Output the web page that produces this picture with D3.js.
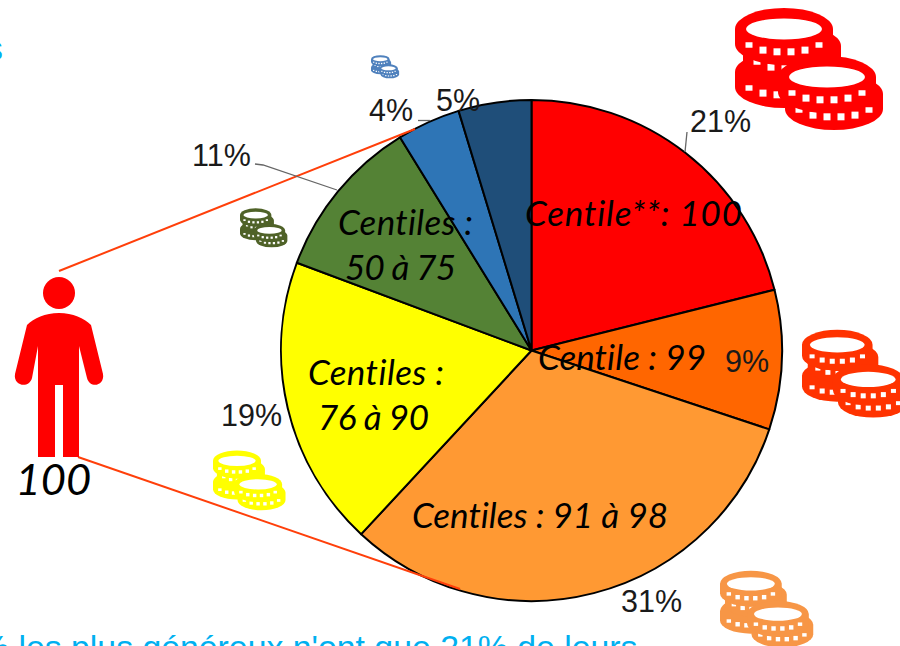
<!DOCTYPE html>
<html><head><meta charset="utf-8">
<script src="https://cdn.jsdelivr.net/npm/d3@7"></script>
<style>html,body{margin:0;padding:0;background:#fff;overflow:hidden}svg{display:block}text{font-variant-ligatures:none}</style>
</head><body><svg id="c" width="900" height="646"></svg>
<script>
const categories = ["Centile 100","Centile 99","Centiles 91 à 98","Centiles 76 à 90","Centiles 50 à 75","Centiles 25 à 49","Centiles 0 à 24"];
const values = [21.1, 9, 31.8, 18.8, 10.5, 4.1, 4.7];
const percentLabels = ["21%","9%","31%","19%","11%","4%","5%"];
const sliceColors = ["#ff0000","#ff6600","#ff9933","#ffff00","#548235","#2e75b6","#1f4e79"];

const svg = d3.select("#c");
const cx = 531.5, cy = 350.5, R = 250.5;
const pie = d3.pie().sort(null).value(d => d);
const arc = d3.arc().innerRadius(0).outerRadius(R);

svg.append("g").attr("transform",`translate(${cx},${cy})`)
  .selectAll("path").data(pie(values)).join("path")
  .attr("d",arc).attr("fill",(d,i)=>sliceColors[i])
  .attr("stroke","#000").attr("stroke-width",2).attr("stroke-linejoin","round");

// guide lines over the pie
const orange = "#ff3f0a";
svg.append("line").attr("x1",78).attr("y1",457).attr("x2",460).attr("y2",589).attr("stroke",orange).attr("stroke-width",2);
svg.append("line").attr("x1",59).attr("y1",271).attr("x2",415).attr("y2",129).attr("stroke",orange).attr("stroke-width",2);

// leader lines
const leader = [[[255,164],[263,165],[337,190]],[[418,120.5],[430,120.5]],[[687,132],[685,152]]];
svg.selectAll("path.lead").data(leader).join("path").attr("class","lead")
  .attr("d",d3.line()).attr("fill","none").attr("stroke","#666").attr("stroke-width",1.3);

// percent labels
const pctPos = [[690,132],[725,372],[621,612],[221,426],[192,166],[369,121],[436,111]];
svg.selectAll("text.pct").data(percentLabels).join("text").attr("class","pct")
  .attr("x",(d,i)=>pctPos[i][0]).attr("y",(d,i)=>pctPos[i][1])
  .attr("font-family","Liberation Sans").attr("font-size",30.5).attr("fill","#1a1a1a").text(d=>d);

// category labels: text, x, baseline, drawn width
const catLabels = [
 ["Centile**: 100",525,226,217],["Centile : 99",538,370,168],["Centiles : 91 à 98",412,528,256],
 ["Centiles :",308,385,136],["76 à 90",318,430,111],["Centiles :",338,235,135],["50 à 75",345,280,111]];
svg.selectAll("text.cat").data(catLabels).join("text").attr("class","cat")
  .attr("x",d=>d[1]).attr("y",d=>d[2]).attr("textLength",d=>d[3]).attr("lengthAdjust","spacing")
  .attr("font-family","Lato").attr("font-style","italic").attr("font-size",35).attr("fill","#000").text(d=>d[0]);
svg.append("text").attr("x",15.5).attr("y",495).attr("font-family","Lato").attr("font-style","italic")
  .attr("font-size",43.5).attr("fill","#000").text("100");

// person
const P = svg.append("g").attr("fill","#ff0000");
P.append("circle").attr("cx",59).attr("cy",293).attr("r",16);
P.append("path").attr("d","M59 313 C45 313 34 318 27 325 L15 374 C13 386 29 389 32 378 L38 346 L38 457 L55 457 L55 385 L63 385 L63 457 L79 457 L79 346 L87 378 C90 389 105 386 103 374 L91 325 C84 318 73 313 59 313 Z");

// coin stacks
const squareOffsets = [-35,-21,-7,7,21,35];
function coin(g,x,y,color,hole){
  const rx=49, ry=21, h=15;
  g.append("path").attr("d",`M${x-rx} ${y} A${rx} ${ry} 0 0 1 ${x+rx} ${y} L${x+rx} ${y+h} A${rx} ${ry} 0 0 1 ${x-rx} ${y+h} Z`).attr("fill",color);
  g.selectAll(null).data(squareOffsets).join("rect")
    .attr("x",d=>x+d-3.5).attr("width",7).attr("height",d=>Math.abs(d)>30?5.5:7)
    .attr("y",d=>y+9+14*Math.sqrt(1-(d/42)*(d/42))-3.5).attr("fill","#fff");
  if(hole) g.append("ellipse").attr("cx",x).attr("cy",y).attr("rx",38).attr("ry",10.5).attr("fill","#fff");
}
function stack(x,y,s,color){
  const g=svg.append("g").attr("transform",`translate(${x},${y}) scale(${s})`);
  coin(g,49,65,color,false);
  coin(g,57,39,color,false);
  coin(g,49,22,color,true);
  coin(g,99,87,color,false);
  coin(g,92,70,color,true);
}
[[735,7,1,"#ff0000"],[802,329,.72,"#ff3300"],[720,570,.63,"#f79646"],[213,450,.49,"#ffff00"],[240,208,.32,"#4f6228"],[371,55,.19,"#4f81bd"]]
  .forEach(d=>stack(...d));

// cropped caption text
const cyan="#00b0f0";
svg.append("text").attr("x",-21).attr("y",659).attr("font-family","Liberation Sans").attr("font-size",33.8).attr("fill",cyan).text("% les plus généreux n'ont que 21% de leurs");
svg.append("text").attr("x",-14).attr("y",60).attr("font-family","Liberation Sans").attr("font-size",33.8).attr("fill",cyan).text("s");
</script></body></html>
